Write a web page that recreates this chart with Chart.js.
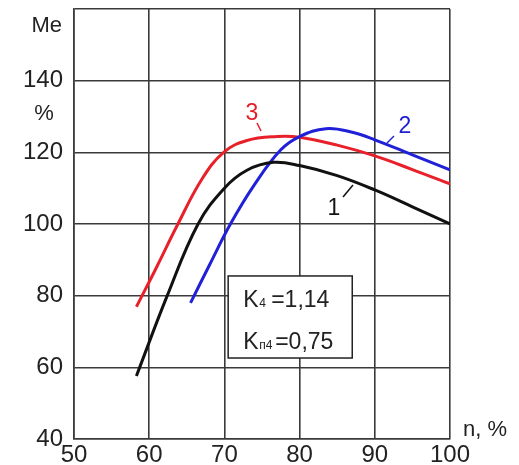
<!DOCTYPE html>
<html>
<head>
<meta charset="utf-8">
<script src="https://cdn.jsdelivr.net/npm/chart.js@4.4.1/dist/chart.umd.min.js"></script>
<style>
  html, body { margin: 0; padding: 0; background: #fff; }
  #wrap { width: 519px; height: 465px; }
</style>
</head>
<body>
<div id="wrap"><canvas id="chart"></canvas></div>
<script>
// n, % (x) and Me, % (y)
const curve1N = [58.3, 62.4, 66.5, 70, 73, 76.5, 80, 85, 90, 95, 100];
const curve1M = [57.6, 80, 100, 110, 115, 117.2, 116.3, 113.5, 109.5, 104.8, 100];

const curve2N = [65.5, 68, 70.8, 74, 77.5, 80, 83.5, 87, 90, 95, 100];
const curve2M = [78, 88.5, 100, 111, 120.7, 124.4, 126.6, 125.6, 123.5, 119.3, 115.1];

const curve3N = [58.3, 61, 63.7, 67, 69.9, 73, 77, 80, 85, 90, 95, 100];
const curve3M = [76.9, 88, 99.5, 112.5, 120, 123.3, 124.4, 124.2, 122, 119, 115.2, 111.2];

const xTicks = [50, 60, 70, 80, 90, 100];
const yTicks = [40, 60, 80, 100, 120, 140, 160];

const FONT = "'Liberation Sans', Arial, sans-serif";
const GRID = "#3a3a3a";

function pts(xs, ys) {
  return xs.map((x, i) => ({ x, y: ys[i] }));
}

// axis captions, curve numbers and the K box
const notes = {
  id: "notes",
  afterDraw(chart) {
    const { ctx } = chart;
    const sx = chart.scales.x, sy = chart.scales.y;
    const px = v => sx.getPixelForValue(v);
    const py = v => sy.getPixelForValue(v);
    ctx.save();
    ctx.fillStyle = "#222";
    ctx.textBaseline = "alphabetic";
    ctx.font = "22px " + FONT;
    ctx.textAlign = "right";
    ctx.fillText("Me", 62, 32);
    ctx.textAlign = "center";
    ctx.fillText("%", 44, 120);
    ctx.textAlign = "left";
    ctx.fillText("n, %", 463, 436);

    // curve labels with leader lines
    const label = (txt, color, tx, ty, x1, y1, x2, y2) => {
      ctx.fillStyle = color;
      ctx.strokeStyle = color;
      ctx.lineWidth = 1.5;
      ctx.font = "23px " + FONT;
      ctx.textAlign = "center";
      ctx.fillText(txt, tx, ty);
      ctx.beginPath();
      ctx.moveTo(x1, y1);
      ctx.lineTo(x2, y2);
      ctx.stroke();
    };
    label("3", "#e3202a", 252, 120, 257, 123, 261, 131);
    label("2", "#2020d0", 405, 133, 394, 136, 387, 143);
    label("1", "#111", 334, 215, 343, 197, 353, 185);

    // parameter box
    const bx = px(70.5), by = py(85.5);
    const bw = px(87) - bx, bh = py(62.6) - by;
    ctx.fillStyle = "#fff";
    ctx.fillRect(bx, by, bw, bh);
    ctx.strokeStyle = "#222";
    ctx.lineWidth = 1.5;
    ctx.strokeRect(bx, by, bw, bh);
    ctx.fillStyle = "#222";
    ctx.textAlign = "left";
    ctx.font = "23px " + FONT;
    ctx.fillText("K", bx + 15, by + 31);
    ctx.font = "12px " + FONT;
    ctx.fillText("4", bx + 31, by + 31);
    ctx.font = "23px " + FONT;
    ctx.fillText("=1,14", bx + 43, by + 31);
    ctx.fillText("K", bx + 15, by + 73);
    ctx.font = "12px " + FONT;
    ctx.fillText("п4", bx + 31, by + 73);
    ctx.font = "23px " + FONT;
    ctx.fillText("=0,75", bx + 47, by + 73);
    ctx.restore();
  },
};

const ds = (data, color) => ({
  data,
  borderColor: color,
  borderWidth: 3,
  pointRadius: 0,
  fill: false,
  tension: 0.4,
});

new Chart(document.getElementById("chart"), {
  type: "line",
  data: {
    datasets: [
      ds(pts(curve1N, curve1M), "#111111"),
      ds(pts(curve2N, curve2M), "#2020d8"),
      ds(pts(curve3N, curve3M), "#e8202a"),
    ],
  },
  options: {
    responsive: true,
    maintainAspectRatio: false,
    animation: false,
    layout: { padding: { left: 0, top: 9, right: 69, bottom: 0 } },
    plugins: { legend: { display: false }, tooltip: { enabled: false } },
    scales: {
      x: {
        type: "linear",
        min: 50,
        max: 100,
        afterBuildTicks: s => { s.ticks = xTicks.map(v => ({ value: v })); },
        afterFit: s => { s.height = 26; s.paddingLeft = 0; s.paddingRight = 0; },
        ticks: { color: "#222", padding: 2, font: { family: FONT, size: 24 } },
        grid: { color: GRID, lineWidth: 1.6, drawTicks: false },
        border: { color: GRID, width: 1.6 },
      },
      y: {
        min: 40,
        max: 160,
        afterBuildTicks: s => { s.ticks = yTicks.map(v => ({ value: v })); },
        afterFit: s => { s.width = 74; s.paddingTop = 0; s.paddingBottom = 0; },
        ticks: {
          color: "#222",
          padding: 11,
          font: { family: FONT, size: 24 },
          callback: v => (v === 160 ? "" : v),
        },
        grid: { color: GRID, lineWidth: 1.6, drawTicks: false },
        border: { color: GRID, width: 1.6 },
      },
    },
  },
  plugins: [notes],
});
</script>
</body>
</html>
